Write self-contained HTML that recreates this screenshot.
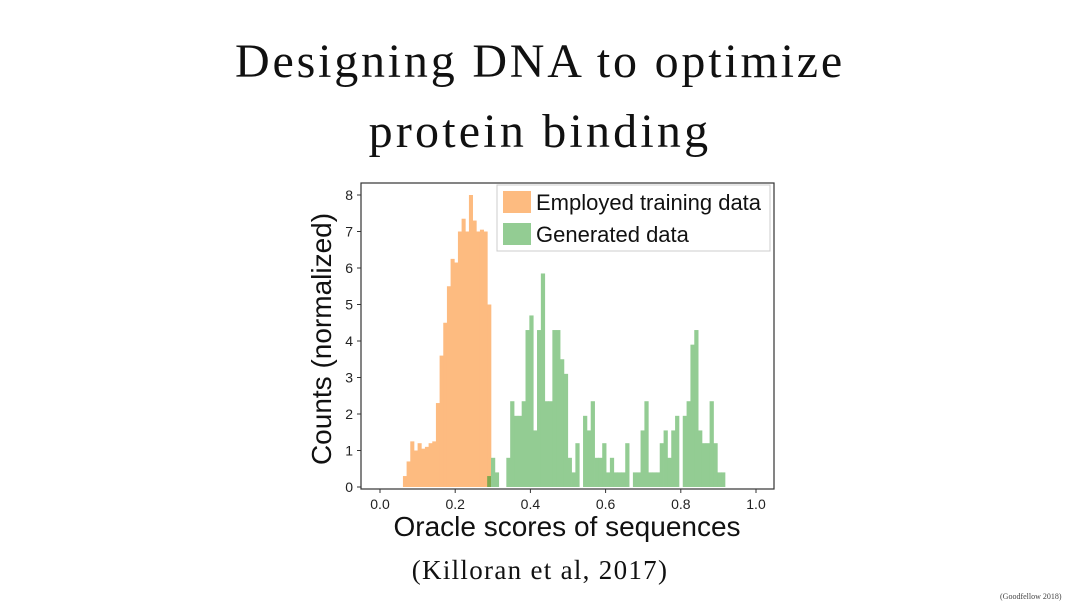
<!DOCTYPE html>
<html><head><meta charset="utf-8"><style>
body{margin:0;background:#fff;width:1080px;height:607px;overflow:hidden;position:relative}
.serif{font-family:"Liberation Serif",serif;position:absolute;color:#111;white-space:nowrap}
</style></head><body>
<div class="serif" style="left:0;width:1080px;text-align:center;top:34px;font-size:48px;letter-spacing:2.8px">Designing DNA to optimize</div>
<div class="serif" style="left:0;width:1080px;text-align:center;top:104px;font-size:48px;letter-spacing:3.2px">protein binding</div>
<div class="serif" style="left:0;width:1080px;text-align:center;top:555px;font-size:27px;letter-spacing:1.3px">(Killoran et al, 2017)</div>
<div class="serif" style="left:1000px;top:592px;font-size:8px;color:#444">(Goodfellow 2018)</div>
<svg id="chart" width="1080" height="607" style="position:absolute;left:0;top:0" font-family="Liberation Sans, sans-serif"></svg>
<script>
const orangeStart = 0.061;
const orangeBinWidth = 0.00975;
const greenStart = 0.285;
const binWidth = 0.0102;
const orangeCounts = [0.3,0.7,1.25,1.0,1.2,1.05,1.1,1.2,1.25,2.3,3.6,4.5,5.5,6.25,6.15,7.0,7.35,7.0,8.0,7.3,7.0,7.05,7.0,5.0];
const greenCounts = [0.3,0.8,0.4,0,0,0.8,2.35,1.95,1.95,2.35,4.3,4.7,1.55,4.3,5.85,2.35,2.35,4.3,4.3,3.5,3.1,0.8,0.4,1.2,0,1.95,1.55,2.35,0.8,0.8,1.2,0.4,0.8,0.4,0.4,0.4,1.2,0,0.4,0.4,1.55,2.35,0.4,0.4,0.4,1.2,1.55,0.8,1.55,1.95,0,1.95,2.35,3.9,4.3,1.55,1.2,1.2,2.35,1.2,0.4,0.4];
const xTicks = [0.0,0.2,0.4,0.6,0.8,1.0];
const xTickLabels = ["0.0","0.2","0.4","0.6","0.8","1.0"];
const yTicks = [0,1,2,3,4,5,6,7,8];
const svg = document.getElementById('chart');
const NS = 'http://www.w3.org/2000/svg';
const L=361,R=774,T=183,B=489;
const xs = v => 380 + v*376;
const ys = v => 487 - v*36.5;
function mk(tag, attrs, parent){const e=document.createElementNS(NS,tag);for(const k in attrs)e.setAttribute(k,attrs[k]);(parent||svg).appendChild(e);return e;}
const oEnd = orangeStart + orangeCounts.length*orangeBinWidth;
orangeCounts.forEach((c,i)=>{
  const x0=xs(orangeStart+i*orangeBinWidth), x1=xs(orangeStart+(i+1)*orangeBinWidth);
  const r=mk('rect',{x:x0,y:ys(c),width:x1-x0+0.4,height:ys(0)-ys(c),fill:'#fdbb80'});
  
  
});
greenCounts.forEach((c,i)=>{
  if(c<=0)return;
  const v0=greenStart+i*binWidth;
  const x0=xs(v0), x1=xs(v0+binWidth);
  const col = v0 + binWidth/2 < oEnd ? '#7fa84f' : '#93cc93';
  const r=mk('rect',{x:x0,y:ys(c),width:x1-x0+0.4,height:ys(0)-ys(c),fill:col});
  
  
});
const frame=mk('rect',{x:L,y:T,width:R-L,height:B-T,fill:'none',stroke:'#333','stroke-width':1.2});


xTicks.forEach((v,i)=>{
  mk('line',{x1:xs(v),x2:xs(v),y1:B,y2:B+4,stroke:'#333'});
  const t=mk('text',{x:xs(v),y:B+20,'text-anchor':'middle','font-size':14,fill:'#222'});
  t.textContent=xTickLabels[i];
  
  
});
yTicks.forEach(v=>{
  mk('line',{x1:L-4,x2:L,y1:ys(v),y2:ys(v),stroke:'#333'});
  const t=mk('text',{x:L-8,y:ys(v)+5,'text-anchor':'end','font-size':14,fill:'#222'});
  t.textContent=String(v);
  
  
});
const xl=mk('text',{x:567,y:536,'text-anchor':'middle','font-size':28,fill:'#111'});
xl.textContent='Oracle scores of sequences';


const yl=mk('text',{x:0,y:0,'text-anchor':'middle','font-size':28,fill:'#111',transform:'translate(331,339) rotate(-90)'});
yl.textContent='Counts (normalized)';


const lg=mk('g',{});


mk('rect',{x:497,y:185,width:273,height:66,fill:'#fff','fill-opacity':0.85,stroke:'#ccc'},lg);
mk('rect',{x:503,y:191,width:28,height:22,fill:'#fdbb80'},lg);
mk('rect',{x:503,y:223,width:28,height:22,fill:'#93cc93'},lg);
const l1=mk('text',{x:536,y:210,'font-size':22,fill:'#111'},lg);l1.textContent='Employed training data';


const l2=mk('text',{x:536,y:242,'font-size':22,fill:'#111'},lg);l2.textContent='Generated data';


</script>
</body></html>
